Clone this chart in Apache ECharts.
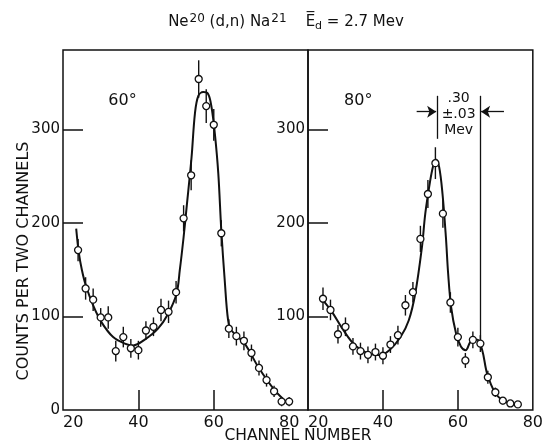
<!DOCTYPE html>
<html>
<head>
<meta charset="utf-8">
<script src="https://cdn.jsdelivr.net/npm/echarts@6/dist/echarts.min.js"></script>
<style>
html, body { margin: 0; background: #fff; }
#chart { width: 546px; height: 444px; }
</style>
</head>
<body>
<div id="chart"></div>
<script>
// 60 degree panel: measured points, error bars and the drawn fit curve
var ch60 = [24, 26, 28, 30, 32, 34, 36, 38, 40, 42, 44, 46, 48, 50, 52, 54, 56, 58, 60, 62, 64, 66, 68, 70, 72, 74, 76, 78, 80];
var cnt60 = [171, 130, 118, 99, 99, 63, 78, 66, 64, 85, 89, 107, 105, 126, 205, 251, 354, 325, 305, 189, 87, 79, 74, 61, 45, 32, 20, 9, 9];
var err60 = [12, 12, 12, 10, 12, 11, 11, 10, 10, 10, 10, 12, 12, 12, 14, 16, 20, 18, 17, 14, 10, 10, 10, 9, 8, 7, 6, 5, 5];
var fit60 = [[23.5, 194], [24.2, 168], [25, 150], [26, 134], [28, 112], [30.2, 94], [33.3, 78], [36.4, 71], [38.6, 69],
  [41.6, 75], [45.2, 87], [47.9, 103], [50.1, 124], [51, 150], [52, 185], [52.8, 217], [54.1, 270], [55, 317],
  [55.9, 336], [57.2, 340], [58.5, 338], [59.4, 324], [60.3, 295], [61.2, 253], [62, 192], [62.9, 139], [63.8, 96],
  [64.7, 85], [68.2, 71], [71.8, 46], [76.2, 21], [79.7, 7]];

// 80 degree panel
var ch80 = [24, 26, 28, 30, 32, 34, 36, 38, 40, 42, 44, 46, 48, 50, 52, 54, 56, 58, 60, 62, 64, 66, 68, 70, 72, 74, 76];
var cnt80 = [119, 107, 81, 89, 68, 63, 59, 62, 58, 70, 80, 112, 126, 183, 231, 264, 210, 115, 78, 53, 75, 71, 35, 19, 10, 7, 6];
var err80 = [12, 11, 10, 10, 9, 9, 9, 9, 9, 9, 10, 11, 11, 14, 15, 17, 15, 11, 10, 8, 9, 9, 7, 5, 4, 3, 3];
var fit80 = [[24.3, 116], [26.4, 105], [29.5, 85], [32.6, 69], [36, 60.5], [39.1, 58.7], [41.7, 64], [44.7, 78],
  [46.9, 96], [48.6, 124], [50.4, 174], [51.3, 210], [52.6, 245], [53.4, 261], [54.1, 268], [55, 260], [55.9, 231],
  [56.8, 185], [57.4, 146], [58.2, 110], [59.5, 82], [60.8, 68], [62.1, 64], [63.4, 73], [65.2, 75], [66.5, 64],
  [67.8, 39], [70, 18], [72.6, 9], [75.9, 5]];

var xLabels = [20, 40, 60, 80];
var xTicks = [40, 60];
var yLabels60 = [0, 100, 200, 300];
var yLabels80 = [100, 200, 300];
var yTicks = [100, 200, 300];

var ink = '#111';
var font = 'DejaVu Sans';

var myChart = echarts.init(document.getElementById('chart'));

function xAxisFor(idx, max) {
  return {
    gridIndex: idx, type: 'value', min: 20, max: max,
    axisLine: { show: false },
    axisTick: { show: true, inside: true, length: 20, customValues: xTicks, lineStyle: { color: ink, width: 1.5 } },
    axisLabel: { customValues: xLabels, color: ink, fontSize: 16, fontFamily: font, margin: 5, alignMinLabel: 'left' },
    splitLine: { show: false }
  };
}
function yAxisFor(idx, labels) {
  return {
    gridIndex: idx, type: 'value', min: 0, max: 385,
    axisLine: { show: false },
    axisTick: { show: true, inside: true, length: 20, customValues: yTicks, lineStyle: { color: ink, width: 1.5 } },
    axisLabel: { customValues: labels, color: ink, fontSize: 15, fontFamily: font, margin: 3 },
    splitLine: { show: false }
  };
}
function errBars(idx, chs, cnts, errs) {
  return {
    type: 'custom', xAxisIndex: idx, yAxisIndex: idx, z: 3, silent: true,
    data: chs.map(function (c, i) { return [c, cnts[i] - errs[i], cnts[i] + errs[i]]; }),
    encode: { x: 0, y: [1, 2] },
    renderItem: function (params, api) {
      var lo = api.coord([api.value(0), api.value(1)]);
      var hi = api.coord([api.value(0), api.value(2)]);
      return { type: 'line', shape: { x1: lo[0], y1: lo[1], x2: hi[0], y2: hi[1] }, style: { stroke: ink, lineWidth: 1.4 } };
    }
  };
}
function points(idx, chs, cnts, tag) {
  return {
    type: 'scatter', xAxisIndex: idx, yAxisIndex: idx, z: 4,
    symbol: 'circle', symbolSize: 7,
    itemStyle: { color: '#fff', borderColor: ink, borderWidth: 1.3, opacity: 1 },
    data: chs.map(function (c, i) { return [c, cnts[i]]; }),
    markPoint: {
      symbol: 'circle', symbolSize: 1, itemStyle: { color: 'transparent' }, silent: true,
      label: { show: true, position: 'inside', color: ink, fontSize: 16, fontFamily: font },
      data: [{ coord: tag.at, value: tag.text, label: { formatter: tag.text } }]
    }
  };
}
function curve(idx, pts) {
  return {
    type: 'line', xAxisIndex: idx, yAxisIndex: idx, z: 2, silent: true,
    showSymbol: false, smooth: 0.35,
    lineStyle: { color: ink, width: 2 },
    data: pts
  };
}

var fit80Series = curve(1, fit80);
// width marker of the 0.30 Mev separation
fit80Series.markLine = {
  silent: true, symbol: ['none', 'none'], symbolSize: 9,
  lineStyle: { color: ink, width: 1.3, type: 'solid' },
  label: { show: false },
  data: [
    [{ coord: [54.4, 336] }, { coord: [54.4, 290] }],
    [{ coord: [66, 336] }, { coord: [66, 75] }],
    [{ coord: [49, 319] }, { coord: [54.2, 319], symbol: 'arrow' }],
    [{ coord: [72.3, 319] }, { coord: [66.2, 319], symbol: 'arrow' }]
  ]
};
fit80Series.markPoint = {
  symbol: 'circle', symbolSize: 1, itemStyle: { color: 'transparent' }, silent: true,
  label: { show: true, position: 'inside', color: ink, fontSize: 14, fontFamily: font, lineHeight: 16, align: 'center' },
  data: [{ coord: [60.2, 316], value: 0, label: { formatter: '.30\n\u00b1.03\nMev' } }]
};

var option = {
  animation: false,
  backgroundColor: '#fff',
  grid: [
    { left: 63, right: 238, top: 50, bottom: 34, show: true, borderColor: ink, borderWidth: 1.5, backgroundColor: 'transparent' },
    { left: 308, right: 9, top: 50, bottom: 34, show: true, borderColor: ink, borderWidth: 1.5, backgroundColor: 'transparent' }
  ],
  xAxis: [xAxisFor(0, 85), xAxisFor(1, 80)],
  yAxis: [yAxisFor(0, yLabels60), yAxisFor(1, yLabels80)],
  graphic: [
    {
      type: 'text', x: 286, y: 22,
      style: {
        text: 'Ne{sup|20} (d,n) Na{sup|21}    E\u0305{sub|d} = 2.7 Mev',
        fill: ink, font: '15px "DejaVu Sans"', align: 'center', verticalAlign: 'middle',
        rich: {
          sup: { fontSize: 12, fontFamily: font, fill: ink, verticalAlign: 'top', padding: [0, 0, 7, 1] },
          sub: { fontSize: 11, fontFamily: font, fill: ink, verticalAlign: 'bottom', padding: [6, 0, 0, 0] }
        }
      }
    },
    {
      type: 'text', x: 24, y: 261, rotation: Math.PI / 2,
      style: { text: 'COUNTS PER TWO CHANNELS', fill: ink, font: '16px "DejaVu Sans"', align: 'center', verticalAlign: 'middle' }
    },
    {
      type: 'text', x: 298, y: 436,
      style: { text: 'CHANNEL NUMBER', fill: ink, font: '15.5px "DejaVu Sans"', align: 'center', verticalAlign: 'middle' }
    }
  ],
  series: [
    curve(0, fit60),
    errBars(0, ch60, cnt60, err60),
    points(0, ch60, cnt60, { at: [35.8, 331], text: '60\u00b0' }),
    fit80Series,
    errBars(1, ch80, cnt80, err80),
    points(1, ch80, cnt80, { at: [33.4, 331], text: '80\u00b0' })
  ]
};
myChart.setOption(option);
</script>
</body>
</html>
